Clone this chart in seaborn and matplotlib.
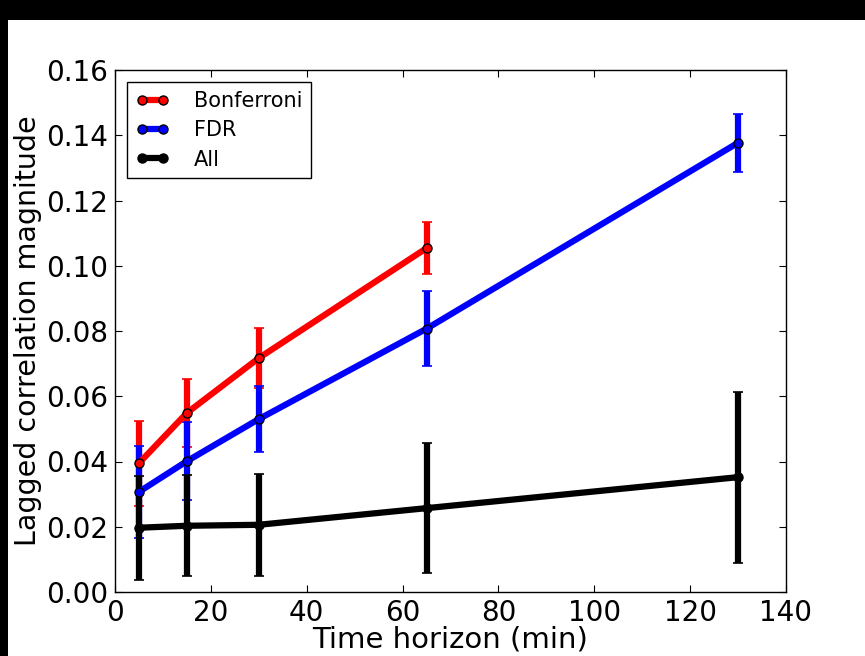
import matplotlib
matplotlib.use("Agg")
import matplotlib.pyplot as plt
import seaborn as sns
import pandas as pd
from matplotlib.patches import Rectangle

# ---- data ----
horizons = [5, 15, 30, 65, 130]
bonf_x = [5, 15, 30, 65]
bonf_y = [0.0395, 0.0549, 0.0717, 0.1054]
bonf_err = [0.013, 0.0105, 0.0092, 0.0080]
fdr_y = [0.0307, 0.0401, 0.0530, 0.0807, 0.1377]
fdr_err = [0.0140, 0.0120, 0.0102, 0.0115, 0.0089]
all_y = [0.0197, 0.0203, 0.0206, 0.0257, 0.0352]
all_err = [0.0160, 0.0155, 0.0156, 0.0200, 0.0262]

series = [
    ("Bonferroni", bonf_x, bonf_y, bonf_err, "red"),
    ("FDR", horizons, fdr_y, fdr_err, "blue"),
    ("All", horizons, all_y, all_err, "black"),
]

sns.set_style("ticks")
plt.rcParams["font.family"] = ["DejaVu Sans"]
plt.rcParams["text.color"] = "black"
plt.rcParams["axes.labelcolor"] = "black"
plt.rcParams["xtick.color"] = "black"
plt.rcParams["ytick.color"] = "black"

fig = plt.figure(figsize=(8.65, 6.56), dpi=100, facecolor="black")
fig.patches.append(Rectangle((8 / 865, 0), 1, 1 - 20 / 656, transform=fig.transFigure,
                             facecolor="white", edgecolor="none", zorder=-10))
ax = fig.add_axes([115 / 865, 1 - 592 / 656, 671 / 865, 522 / 656])
ax.set_facecolor("white")

for name, xs, ys, es, col in series:
    df = pd.DataFrame({"x": xs, "y": ys})
    ax.errorbar(xs, ys, yerr=es, fmt="none", ecolor=col, elinewidth=4.5,
                capsize=3.5, capthick=1.2, zorder=2)
    sns.lineplot(data=df, x="x", y="y", ax=ax, color=col, lw=4.5, marker="o",
                 markersize=6.5, markerfacecolor=col, markeredgecolor="black",
                 markeredgewidth=1, label=name, zorder=3)

ax.set_xlim(0, 140)
ax.set_ylim(0, 0.16)
ax.set_xticks(range(0, 141, 20))
ax.set_yticks([0.00, 0.02, 0.04, 0.06, 0.08, 0.10, 0.12, 0.14, 0.16])
ax.set_yticklabels([f"{v:.2f}" for v in ax.get_yticks()])
ax.tick_params(direction="in", length=5, width=0.8, labelsize=20, pad=5,
               top=True, right=True, colors="black", labelcolor="black")
for s in ax.spines.values():
    s.set_linewidth(1)
    s.set_color("black")

ax.set_xlabel("Time horizon (min)", fontsize=21, labelpad=-1, color="black")
ax.set_ylabel("Lagged correlation magnitude", fontsize=20.5, labelpad=3, color="black")

leg = ax.legend(loc="upper left", numpoints=2, fontsize=15, frameon=True,
                fancybox=False, edgecolor="black", framealpha=1,
                handlelength=1.6, borderaxespad=0.6, labelspacing=0.45,
                handletextpad=1.2, labelcolor="black")
leg.get_frame().set_linewidth(1)

fig.savefig("out.png", dpi=100, facecolor="black")
